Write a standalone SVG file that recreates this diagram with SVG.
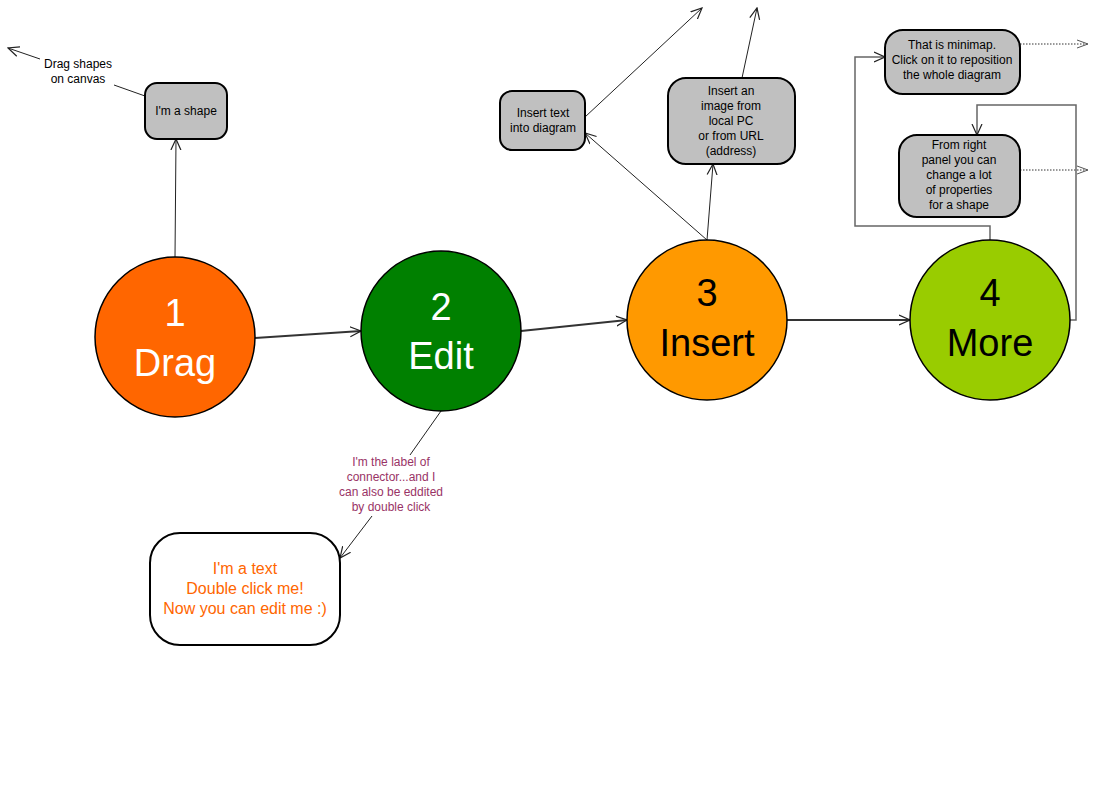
<svg xmlns="http://www.w3.org/2000/svg" width="1100" height="800" viewBox="0 0 1100 800">
<style>
  .box{fill:#c0c0c0;stroke:#000;stroke-width:2}
  .circ{stroke:#000;stroke-width:1.5}
  .small{font-family:"Liberation Sans",Arial,sans-serif;font-size:12px;text-anchor:middle;fill:#000}
  .big{font-family:"Liberation Sans",Arial,sans-serif;font-size:38px;text-anchor:middle}
  .con{fill:none;stroke:#222;stroke-width:1}
  .main{fill:none;stroke:#333;stroke-width:2}
  .ortho{fill:none;stroke:#666;stroke-width:1.5}
  .dot{fill:none;stroke:#333;stroke-width:1;stroke-dasharray:1.5 1.5}
</style>
<defs>
  <marker id="arr" viewBox="0 0 12 12" refX="11" refY="6" markerWidth="12" markerHeight="12" markerUnits="userSpaceOnUse" orient="auto">
    <path d="M0,1 L11,6 L0,11" fill="none" stroke="#222" stroke-width="1.2"/>
  </marker>
  <marker id="arrd" viewBox="0 0 12 12" refX="11" refY="6" markerWidth="12" markerHeight="12" markerUnits="userSpaceOnUse" orient="auto">
    <path d="M0,2 L11,6 L0,10" fill="none" stroke="#555" stroke-width="1"/>
  </marker>
</defs>
<rect width="1100" height="800" fill="#fff"/>
<g id="connectors">
  <line class="main" x1="255" y1="338" x2="361" y2="331" marker-end="url(#arr)"/>
  <line class="main" x1="521" y1="331" x2="627" y2="320" marker-end="url(#arr)"/>
  <line class="main" x1="787" y1="320" x2="910" y2="320" marker-end="url(#arr)"/>
  <line class="con" x1="175" y1="257" x2="176" y2="139" marker-end="url(#arr)"/>
  <line class="con" x1="145" y1="96" x2="114" y2="85"/>
  <line class="con" x1="40" y1="59" x2="8" y2="48" marker-end="url(#arr)"/>
  <line class="con" x1="707" y1="240" x2="585" y2="133" marker-end="url(#arr)"/>
  <line class="con" x1="585" y1="117" x2="702" y2="8" marker-end="url(#arr)"/>
  <line class="con" x1="707" y1="240" x2="713" y2="164" marker-end="url(#arr)"/>
  <line class="con" x1="742" y1="78" x2="757" y2="8" marker-end="url(#arr)"/>
  <line class="dot" x1="1020" y1="44" x2="1088" y2="44" marker-end="url(#arrd)"/>
  <line class="dot" x1="1020" y1="170" x2="1088" y2="170" marker-end="url(#arrd)"/>
  <polyline class="ortho" points="990,240 990,226 855,226 855,57 885,57" marker-end="url(#arr)"/>
  <polyline class="ortho" points="1070,320 1076,320 1076,105 977,105 977,135" marker-end="url(#arr)"/>
  <line class="con" x1="441" y1="411" x2="410" y2="455"/>
  <line class="con" x1="372" y1="516" x2="340" y2="558" marker-end="url(#arr)"/>
  <text class="small" x="78" y="68">Drag shapes</text>
  <text class="small" x="78" y="83">on canvas</text>
  <g fill="#993366" style="fill:#993366">
    <text class="small" x="391" y="466" style="fill:#993366">I'm the label of</text>
    <text class="small" x="391" y="481" style="fill:#993366">connector...and I</text>
    <text class="small" x="391" y="496" style="fill:#993366">can also be eddited</text>
    <text class="small" x="391" y="511" style="fill:#993366">by double click</text>
  </g>
</g>
<g id="node1">
  <circle class="circ" cx="175" cy="337" r="80" fill="#ff6600"/>
  <text class="big" x="175" y="326" fill="#fff">1</text>
  <text class="big" x="175" y="376" fill="#fff">Drag</text>
</g>
<g id="node2">
  <circle class="circ" cx="441" cy="331" r="80" fill="#008000"/>
  <text class="big" x="441" y="320" fill="#fff">2</text>
  <text class="big" x="441" y="369" fill="#fff">Edit</text>
</g>
<g id="node3">
  <circle class="circ" cx="707" cy="320" r="80" fill="#ff9900"/>
  <text class="big" x="707" y="306" fill="#000">3</text>
  <text class="big" x="707" y="356" fill="#000">Insert</text>
</g>
<g id="node4">
  <circle class="circ" cx="990" cy="320" r="80" fill="#99cc00"/>
  <text class="big" x="990" y="306" fill="#000">4</text>
  <text class="big" x="990" y="356" fill="#000">More</text>
</g>
<g id="shape">
  <rect class="box" x="145" y="83" width="82" height="56" rx="12"/>
  <text class="small" x="186" y="115">I'm a shape</text>
</g>
<g id="inserttext">
  <rect class="box" x="500" y="91" width="85" height="59" rx="12"/>
  <text class="small" x="543" y="117">Insert text</text>
  <text class="small" x="543" y="132">into diagram</text>
</g>
<g id="insertimage">
  <rect class="box" x="668" y="78" width="127" height="86" rx="18"/>
  <text class="small" x="731" y="95">Insert an</text>
  <text class="small" x="731" y="110">image from</text>
  <text class="small" x="731" y="125">local PC</text>
  <text class="small" x="731" y="140">or from URL</text>
  <text class="small" x="731" y="155">(address)</text>
</g>
<g id="minimap">
  <rect class="box" x="885" y="30" width="135" height="64" rx="18"/>
  <text class="small" x="952" y="49">That is minimap.</text>
  <text class="small" x="952" y="64">Click on it to reposition</text>
  <text class="small" x="952" y="79">the whole diagram</text>
</g>
<g id="rightpanel">
  <rect class="box" x="899" y="135" width="121" height="82" rx="18"/>
  <text class="small" x="959" y="149">From right</text>
  <text class="small" x="959" y="164">panel you can</text>
  <text class="small" x="959" y="179">change a lot</text>
  <text class="small" x="959" y="194">of properties</text>
  <text class="small" x="959" y="209">for a shape</text>
</g>
<g id="textbox">
  <rect x="150" y="533" width="190" height="112" rx="30" fill="#fff" stroke="#000" stroke-width="2"/>
  <g font-family="Liberation Sans, Arial, sans-serif" font-size="16" text-anchor="middle" fill="#ff6600">
    <text x="245" y="574">I'm a text</text>
    <text x="245" y="594">Double click me!</text>
    <text x="245" y="614">Now you can edit me :)</text>
  </g>
</g>
</svg>
